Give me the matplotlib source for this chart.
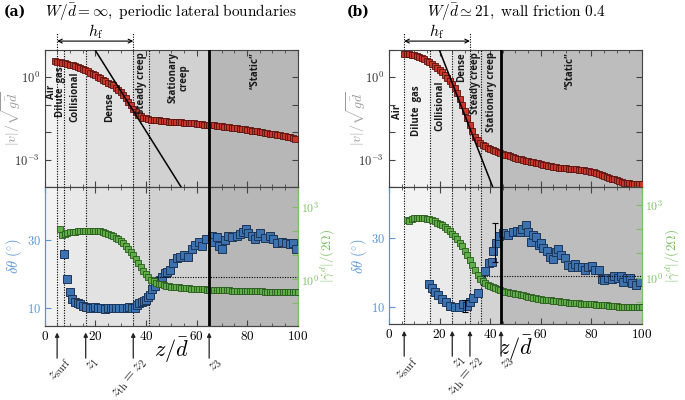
import matplotlib.pyplot as plt
import matplotlib.transforms as mtransforms
import numpy as np

plt.rcParams['mathtext.fontset'] = 'cm'
plt.rcParams['font.family'] = 'DejaVu Serif'

# ---------------- panel (a): W/d = inf, periodic ----------------
a_z_v = np.arange(4, 100)
a_logv = [0.59, 0.58, 0.56, 0.54, 0.52, 0.50, 0.47, 0.44, 0.41, 0.38,
          0.34, 0.31, 0.27, 0.22, 0.17, 0.12, 0.07, 0.01, -0.04, -0.09,
          -0.14, -0.19, -0.24, -0.29, -0.37, -0.45, -0.53, -0.64, -0.76, -0.89,
          -1.02, -1.15, -1.27, -1.36, -1.42, -1.47, -1.50, -1.53, -1.54, -1.55,
          -1.56, -1.57, -1.58, -1.59, -1.60, -1.61, -1.61, -1.62, -1.63, -1.64,
          -1.64, -1.65, -1.66, -1.67, -1.68, -1.68, -1.69, -1.70, -1.71, -1.72,
          -1.72, -1.73, -1.74, -1.75, -1.76, -1.77, -1.79, -1.80, -1.81, -1.82,
          -1.84, -1.85, -1.86, -1.88, -1.89, -1.90, -1.92, -1.93, -1.95, -1.96,
          -1.97, -1.99, -2.00, -2.02, -2.03, -2.05, -2.06, -2.08, -2.10, -2.12,
          -2.13, -2.15, -2.17, -2.19, -2.21, -2.23]
a_z_g = np.arange(6, 101)
a_logg = [2.07, 1.84, 1.88, 1.91, 1.93, 1.95, 1.97, 1.98, 1.99, 2.00,
          2.00, 2.01, 2.01, 2.01, 2.01, 2.00, 1.98, 1.95, 1.92, 1.88,
          1.83, 1.78, 1.72, 1.65, 1.57, 1.48, 1.38, 1.26, 1.12, 0.98,
          0.82, 0.66, 0.50, 0.34, 0.20, 0.08, -0.02, -0.09, -0.14, -0.18,
          -0.21, -0.24, -0.27, -0.29, -0.31, -0.32, -0.33, -0.34, -0.35, -0.36,
          -0.37, -0.38, -0.39, -0.40, -0.41, -0.41, -0.42, -0.42, -0.43, -0.44,
          -0.44, -0.44, -0.45, -0.45, -0.45, -0.46, -0.46, -0.46, -0.47, -0.47,
          -0.47, -0.48, -0.48, -0.48, -0.49, -0.49, -0.49, -0.50, -0.50, -0.51,
          -0.51, -0.52, -0.52, -0.53, -0.53, -0.54, -0.54, -0.54, -0.54, -0.54,
          -0.54, -0.54, -0.54, -0.54, -0.54]
a_z_t = [7.6, 8.9, 10.0, 10.9, 12.0, 13.0, 14.0, 15.3, 16.5, 17.9,
         19.0, 20.0, 21.2, 22.4, 23.8, 25.0, 26.0, 27.1, 28.3, 29.5,
         31.1, 32.4, 33.5, 34.4, 35.5, 36.4, 37.4, 38.3, 39.2, 40.0,
         40.8, 41.6, 42.6, 43.6, 44.6, 45.6, 46.5, 47.5, 48.5, 49.5,
         50.8, 52.2, 53.5, 55.1, 56.8, 58.1, 59.4, 61.1, 62.1, 63.8,
         66.0, 66.9, 68.0, 69.0, 70.0, 71.3, 72.6, 73.9, 75.9, 77.2,
         78.5, 79.6, 80.5, 81.8, 83.1, 84.2, 85.1, 87.1, 89.1, 90.4,
         91.9, 93.7, 95.4, 97.0, 98.3, 99.3]
a_theta = [25.9, 18.6, 14.8, 12.7, 12.0, 11.6, 11.2, 10.8, 10.4, 10.2,
           10.2, 10.3, 10.2, 10.0, 9.8, 10.0, 10.1, 10.1, 10.2, 10.2,
           10.2, 10.0, 10.3, 10.2, 10.2, 11.0, 11.5, 11.8, 12.2, 12.5,
           13.2, 14.0, 15.6, 16.4, 17.6, 18.3, 19.3, 20.3, 20.6, 21.2,
           23.2, 24.7, 25.1, 25.6, 25.1, 27.4, 28.5, 29.3, 28.3, 30.3,
           31.0, 29.3, 30.7, 28.3, 27.3, 30.0, 31.2, 30.7, 31.2, 31.7,
           32.4, 33.1, 31.9, 31.2, 30.2, 31.0, 32.1, 30.5, 31.2, 30.2,
           29.0, 29.3, 29.0, 28.7, 29.0, 27.4]
a_fit_z = [19.9, 53.9]
a_fit_v = [1e1, 1e-4]
a_bounds = [0, 4.9, 7.7, 16.2, 35.0, 41.1, 65.0, 100]
a_zone_names = ['Air', 'Dilute  gas', 'Collisional', 'Dense', 'Steady creep',
                'Stationary\ncreep', '\u201cStatic\u201d']
a_marks = [4.9, 16.2, 35.0, 65.0]

# ---------------- panel (b): W/d ~ 21, wall friction 0.4 ----------------
b_z_v = np.arange(6, 101)
b_logv = [0.87, 0.86, 0.84, 0.82, 0.80, 0.77, 0.74, 0.70, 0.66, 0.61,
          0.56, 0.50, 0.43, 0.35, 0.27, 0.18, 0.08, -0.03, -0.14, -0.25,
          -0.40, -0.58, -0.79, -1.01, -1.23, -1.49, -1.74, -1.96, -2.16, -2.30,
          -2.39, -2.46, -2.52, -2.57, -2.62, -2.66, -2.70, -2.73, -2.76, -2.79,
          -2.82, -2.85, -2.88, -2.91, -2.94, -2.97, -2.99, -3.02, -3.04, -3.06,
          -3.08, -3.10, -3.12, -3.14, -3.16, -3.18, -3.20, -3.22, -3.24, -3.26,
          -3.27, -3.29, -3.30, -3.31, -3.32, -3.33, -3.34, -3.35, -3.36, -3.37,
          -3.38, -3.39, -3.41, -3.42, -3.44, -3.47, -3.50, -3.53, -3.56, -3.60,
          -3.63, -3.66, -3.69, -3.72, -3.75, -3.78, -3.81, -3.84, -3.86, -3.87,
          -3.88, -3.88, -3.88, -3.88, -3.88]
b_z_g = np.arange(7, 101)
b_logg = [2.38, 2.33, 2.42, 2.46, 2.47, 2.48, 2.48, 2.46, 2.43, 2.40,
          2.36, 2.32, 2.27, 2.22, 2.16, 2.09, 2.02, 1.93, 1.82, 1.70,
          1.58, 1.45, 1.30, 1.12, 0.93, 0.73, 0.52, 0.31, 0.10, -0.04,
          -0.15, -0.23, -0.30, -0.35, -0.40, -0.44, -0.48, -0.51, -0.55, -0.58,
          -0.60, -0.62, -0.64, -0.66, -0.68, -0.71, -0.73, -0.75, -0.78, -0.80,
          -0.82, -0.84, -0.86, -0.88, -0.90, -0.91, -0.93, -0.94, -0.96, -0.97,
          -0.98, -0.99, -1.01, -1.02, -1.03, -1.04, -1.05, -1.06, -1.06, -1.07,
          -1.08, -1.08, -1.09, -1.10, -1.10, -1.11, -1.12, -1.13, -1.14, -1.14,
          -1.15, -1.16, -1.17, -1.18, -1.19, -1.19, -1.20, -1.20, -1.20, -1.20,
          -1.20, -1.20, -1.20, -1.20]
b_z_t = [15.8, 16.9, 18.2, 19.5, 21.1, 22.4, 24.1, 26.1, 27.7, 29.4,
         30.7, 32.0, 33.3, 35.1, 36.3, 37.9, 39.5, 40.6, 41.2, 42.3,
         43.5, 45.2, 47.2, 49.1, 50.4, 51.6, 52.7, 54.0, 55.1, 56.1,
         57.0, 58.0, 59.3, 60.1, 61.0, 62.3, 63.6, 64.9, 65.9, 66.9,
         68.0, 69.6, 70.9, 72.2, 73.5, 74.8, 76.2, 77.5, 78.8, 80.1,
         81.4, 83.0, 84.1, 85.1, 86.4, 88.0, 89.1, 90.4, 91.7, 92.6,
         94.0, 95.3, 96.2, 97.5, 99.2]
b_theta = [16.7, 15.4, 14.4, 13.5, 12.3, 11.3, 10.4, 9.9, 10.1, 10.8,
           10.4, 11.4, 12.5, 14.0, 18.8, 20.4, 22.6, 23.1, 26.2, 28.4,
           30.4, 31.3, 30.8, 31.7, 32.0, 31.7, 32.4, 33.5, 31.7, 28.7,
           30.8, 30.3, 27.9, 28.4, 26.9, 26.2, 24.5, 23.9, 26.0, 26.7,
           25.0, 24.2, 22.1, 21.6, 22.3, 21.4, 21.4, 20.7, 21.6, 21.9,
           20.7, 20.7, 18.0, 17.8, 18.3, 18.1, 19.0, 18.5, 18.8, 17.3,
           18.3, 18.5, 16.9, 16.4, 17.3]
b_err_z = [30.0, 41.9]
b_err_theta = [10.4, 28.6]
b_err_size = [1.7, 5.5]
b_fit_z = [19.9, 41.0]
b_fit_v = [1e1, 1e-4]
b_bounds = [0, 6.0, 16.1, 25.0, 32.0, 36.2, 44.3, 100]
b_zone_names = ['Air', 'Dilute  gas', 'Collisional', 'Dense', 'Steady creep',
                'Stationary creep', '\u201cStatic\u201d']
b_marks = [6.0, 25.0, 32.0, 44.3]

mark_labels = [r'$z_{\rm surf}$', r'$z_1$', r'$z_{\rm th}=z_2$', r'$z_3$']

a_shades = ['#f3f3f3', '#eeeeee', '#e9e9e9', '#e2e2e2', '#d9d9d9', '#d1d1d1', '#b7b7b7']
b_shades = ['#ffffff', '#f3f3f3', '#eaeaea', '#e3e3e3', '#dbdbdb', '#d3d3d3', '#bdbdbd']

BLUE = '#5b93d3'
GREEN = '#7cbf63'
GREY = '#444444'
DOT = (0, (1, 1.3))


def draw(rect_top, rect_bot, z_v, logv, z_g, logg, z_t, theta, fit_z, fit_v,
         bounds, shades, names, name_pos, marks, tlim, glim, errs=None):
    ax = fig.add_axes(rect_top)
    axb = fig.add_axes(rect_bot)
    axg = axb.twinx()
    axg.patch.set_visible(False)
    for a in (ax, axb):
        for i in range(len(bounds) - 1):
            a.axvspan(bounds[i], bounds[i + 1], color=shades[i], lw=0, zorder=0)
        for b in bounds[1:-2]:
            a.axvline(b, color='k', ls=DOT, lw=0.8, zorder=1)
        a.set_xlim(0, 100)
        a.set_xticks(np.arange(0, 101, 20))
        a.set_xticks(np.arange(0, 101, 5), minor=True)
    ax.axvline(bounds[-2], color='k', lw=2.0, zorder=6)
    axg.axvline(bounds[-2], color='k', lw=2.0, zorder=6)

    # velocity panel
    ax.set_yscale('log')
    ax.set_ylim(1e-4, 1e1)
    ax.plot(z_v, 10 ** np.array(logv), ls='none', marker='s', ms=4.4,
            mfc='#c8372a', mec='#5a1410', mew=0.6, zorder=3)
    ax.plot(fit_z, fit_v, color='k', lw=1.1, zorder=4)
    ax.set_yticks([1e1, 1e0, 1e-1, 1e-2, 1e-3, 1e-4])
    ax.set_yticklabels(['', r'$10^{0}$', '', '', r'$10^{-3}$', ''], fontsize=9,
                       color='#333333')
    ax.yaxis.set_minor_locator(plt.NullLocator())
    ax.tick_params(which='both', direction='in', top=True, right=True, labelbottom=False,
                   color=GREY)
    ax.tick_params(which='major', length=4)
    ax.tick_params(which='minor', length=2.5)
    ax.set_ylabel(r'$|v|/\sqrt{g\bar{d}}$', fontsize=10, color='#9a9a9a')
    ax.yaxis.set_label_coords(-0.085, 0.5)
    for s in ax.spines.values():
        s.set_color(GREY)

    trans = mtransforms.blended_transform_factory(ax.transData, ax.transAxes)
    for (x, y), txt in zip(name_pos, names):
        ax.text(x, y, txt, transform=trans, rotation=90, ha='center', va='top',
                fontsize=7, fontweight='bold', family='Open Sans', color='#1a1a1a',
                linespacing=1.0, zorder=5)
    # h_f arrow
    for m in (marks[0], marks[2]):
        ax.plot([m, m], [1.0, 1.125], transform=trans, color='k', ls=DOT, lw=0.8,
                clip_on=False)
    ax.annotate('', xy=(marks[0], 1.065), xytext=(marks[2], 1.065), xycoords=trans,
                textcoords=trans, arrowprops=dict(arrowstyle='<->', lw=0.8, color='k',
                                                  shrinkA=0, shrinkB=0, mutation_scale=7))
    ax.text((marks[0] + marks[2]) / 2, 1.135, r'$h_{\rm f}$', transform=trans,
            ha='center', va='center', fontsize=11.5)

    # lower panel
    axg.set_yscale('log')
    axg.set_ylim(*glim)
    axg.plot(z_g, 10 ** np.array(logg), ls='none', marker='s', ms=4.2,
             mfc='#5fae47', mec='#2b5a1f', mew=0.6, zorder=3)
    axg.axhline(1.2, xmin=bounds[5] / 100, xmax=1, color='k', ls=DOT, lw=0.8)
    axb.plot(z_t, theta, ls='none', marker='s', ms=5.2, mfc='#3c72b0',
             mec='#1d3658', mew=0.7, zorder=3)
    if errs is not None:
        axb.errorbar(errs[0], errs[1], yerr=errs[2], fmt='none', ecolor='k',
                     elinewidth=0.8, capsize=2, capthick=0.8, zorder=4)
    axb.set_ylim(*tlim)
    axb.set_yticks([10, 30])
    axb.set_yticklabels([r'$10$', r'$30$'], fontsize=9, color=BLUE)
    axb.set_xticklabels([r'$%d$' % v for v in range(0, 101, 20)], fontsize=9.5)
    axb.tick_params(which='both', direction='in', top=True, color=GREY)
    axb.tick_params(axis='y', colors=BLUE, labelcolor=BLUE)
    axb.tick_params(which='major', length=4, pad=3)
    axb.tick_params(which='minor', length=2.5)
    axg.set_yticks([10.0 ** k for k in range(-1, 4)])
    axg.set_yticklabels(['', r'$10^{0}$', '', '', r'$10^{3}$'], fontsize=8.5, color=GREEN)
    axg.yaxis.set_minor_locator(plt.NullLocator())
    axg.tick_params(axis='y', direction='in', length=4, pad=2.5, colors=GREEN,
                    labelcolor=GREEN)
    axb.set_ylabel(r'$\delta\theta\ (^{\circ})$', fontsize=10.5, color=BLUE)
    axb.yaxis.set_label_coords(-0.08, 0.5)
    axg.set_ylabel(r'$|\dot{\gamma}^{d}|/(2\Omega)$', fontsize=9.5, color=GREEN)
    axg.yaxis.set_label_coords(1.085, 0.5)
    for a in (axb, axg):
        a.spines['left'].set_color(BLUE)
        a.spines['right'].set_color(GREEN)
        a.spines['top'].set_color(GREY)
        a.spines['bottom'].set_color(GREY)
    axb.text(0.5, -0.18, r'$z/\bar{d}$', transform=axb.transAxes, ha='center',
             va='center', fontsize=16)

    tb = mtransforms.blended_transform_factory(axb.transData, axb.transAxes)
    for m, lab in zip(marks, mark_labels):
        axb.annotate('', xy=(m, -0.05), xytext=(m, -0.235), xycoords=tb, textcoords=tb,
                     arrowprops=dict(arrowstyle='-|>', lw=0.9, color='#222222',
                                     shrinkA=0, shrinkB=0, mutation_scale=6))
        axb.text(m + 2.4, -0.215, lab, transform=tb, rotation=50, rotation_mode='anchor',
                 ha='right', va='top', fontsize=10.5, color='#222222')
    return ax, axb


fig = plt.figure(figsize=(6.85, 4.0), dpi=100)

a_name_pos = [(2.5, 0.745), (6.3, 0.88), (12.0, 0.84), (25.8, 0.69), (38.3, 0.985),
              (53.0, 0.985), (83.1, 0.985)]
b_name_pos = [(3.3, 0.60), (10.9, 0.745), (20.2, 0.78), (28.7, 0.98), (34.0, 0.98),
              (40.4, 0.985), (71.5, 0.985)]

draw([0.0653, 0.5325, 0.3693, 0.3425], [0.0653, 0.186, 0.3693, 0.3465],
     a_z_v, a_logv, a_z_g, a_logg, a_z_t, a_theta, a_fit_z, a_fit_v,
     a_bounds, a_shades, a_zone_names, a_name_pos, a_marks,
     (5.0, 45.4), (10 ** -1.92, 10 ** 3.81))
draw([0.5679, 0.5325, 0.3693, 0.3425], [0.5679, 0.19, 0.3693, 0.3425],
     b_z_v, b_logv, b_z_g, b_logg, b_z_t, b_theta, b_fit_z, b_fit_v,
     b_bounds, b_shades, b_zone_names, b_name_pos, b_marks,
     (5.1, 44.6), (10 ** -1.91, 10 ** 3.74), errs=(b_err_z, b_err_theta, b_err_size))

fig.text(0.005, 0.97, '(a)', fontsize=10, fontweight='bold', family='DejaVu Serif',
         va='center')
fig.text(0.066, 0.97, r'$W/\bar{d} = \infty,\ \mathrm{periodic\ lateral\ boundaries}$',
         fontsize=11, va='center')
fig.text(0.506, 0.97, '(b)', fontsize=10, fontweight='bold', family='DejaVu Serif',
         va='center')
fig.text(0.623, 0.97, r'$W/\bar{d} \simeq 21,\ \mathrm{wall\ friction\ 0.4}$',
         fontsize=11, va='center')

fig.savefig('out.png', dpi=100)
